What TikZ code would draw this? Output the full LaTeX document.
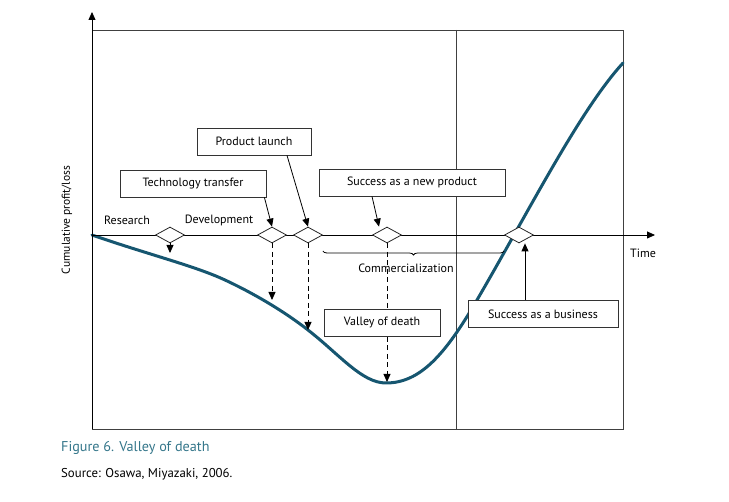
\documentclass[tikz,border=0pt]{standalone}
\usepackage{fontspec}
\setmainfont{PT Sans}
\usetikzlibrary{arrows.meta,shapes.geometric,decorations.pathreplacing}
\definecolor{valley}{RGB}{22,86,112}
\definecolor{capteal}{RGB}{52,118,138}
\begin{document}
\begin{tikzpicture}[
	x=1pt, y=-1pt,
	font=\fontsize{12}{14}\selectfont,
	frame/.style={draw=black!75, line width=0.8pt},
	box/.style={draw=black!80, line width=0.8pt, fill=white, minimum height=27pt, inner sep=0pt},
	gate/.style={diamond, draw=black!85, line width=0.8pt, fill=white, inner sep=0pt, minimum width=29pt, minimum height=16pt},
	arr/.style={line width=0.8pt, -{Triangle[length=8pt,width=7pt]}},
	darr/.style={arr, dash pattern=on 5pt off 3.5pt},
	]
\useasboundingbox (0,0) rectangle (729,502);
% frame
\draw[frame] (92,30) -- (623,30) -- (623,429) -- (92,429);
\draw[frame] (456,30) -- (456,429);
% curve
\draw[valley, line width=3pt, line cap=round]
	(92,235) .. controls (150,255) and (195,266) .. (225,280)
	.. controls (255,294) and (285,312) .. (308,330)
	.. controls (340,355) and (362,383) .. (386,383)
	.. controls (420,383) and (445,355) .. (477,300)
	.. controls (530,209) and (580,110) .. (623,63);
% axes
\coordinate (o) at (92,235);
\coordinate (ytop) at (92,12);
\coordinate (ybot) at (92,429);
\coordinate (tend) at (655,235);
\draw[arr] (ybot) -- (ytop);
\draw[arr] (o) -- (tend);
\node[rotate=90, font=\fontsize{11.5}{13}\selectfont] (ylab) at (67,220) {Cumulative profit/loss};
\node (time) at (643,253) {Time};
% stages
\node[gate] (d1) at (170,235) {};
\node[gate] (d2) at (272,235) {};
\node[gate] (d3) at (308,235) {};
\node[gate] (d4) at (387,235) {};
\node[gate] (d5) at (519,235) {};
\node (res) at (127,220) {Research};
\node (dev) at (219,220) {Development};
% drops
\coordinate (v1) at (170,253);
\coordinate (v2) at (272,300);
\coordinate (v3) at (308,330);
\coordinate (v4) at (387,382);
\draw[arr] (d1.south) -- (v1);
\draw[darr] (d2.south) -- (v2);
\draw[darr] (d3.south) -- (v3);
\draw[darr] (d4.south) -- (v4);
% commercialization
\draw[line width=0.8pt, decorate, decoration={brace, amplitude=4pt, mirror}]
	([yshift=-16pt]d3.east) -- ([yshift=-16pt]d5.west);
\node (com) at (406,268) {Commercialization};
% callouts
\node[box, minimum width=146pt] (tt) at (193,183.5) {Technology transfer};
\node[box, minimum width=114pt] (pl) at (254,141.5) {Product launch};
\node[box, minimum width=186pt] (sn) at (412,182.5) {Success as a new product};
\node[box, minimum width=116pt] (vd) at (382,322.5) {Valley of death};
\node[box, minimum width=150pt] (sb) at (543,314) {Success as a business};
\draw[arr] ([xshift=-2pt]tt.south east) -- (d2.north);
\draw[arr] ([xshift=33pt]pl.south) -- (d3.north);
\draw[arr] ([xshift=-40pt]sn.south) -- ([xshift=-8pt]d4.north);
\draw[arr] ([xshift=6pt]d5.south |- sb.north) -- ([xshift=6pt]d5.south);
% caption
\node[anchor=west, inner sep=0pt, text=capteal, font=\fontsize{14.2}{16}\selectfont] (cap) at (61,448) {Figure 6. Valley of death};
\node[anchor=west, inner sep=0pt, font=\fontsize{12.8}{14}\selectfont] (src) at (61,474) {Source: Osawa, Miyazaki, 2006.};
\end{tikzpicture}
\end{document}
